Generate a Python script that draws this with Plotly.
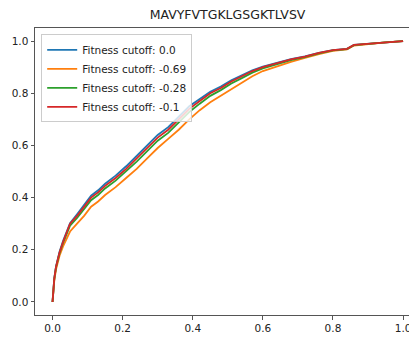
import plotly.graph_objects as go

title = "MAVYFVTGKLGSGKTLVSV"
labels = ["Fitness cutoff: 0.0", "Fitness cutoff: -0.69", "Fitness cutoff: -0.28", "Fitness cutoff: -0.1"]
colors = ["#1f77b4", "#ff7f0e", "#2ca02c", "#d62728"]

x_vals = [0, 0.002, 0.005, 0.01, 0.015, 0.02, 0.03, 0.04, 0.05, 0.07, 0.09, 0.11, 0.13, 0.15,
          0.18, 0.21, 0.24, 0.27, 0.30, 0.33, 0.36, 0.39, 0.42, 0.45, 0.48, 0.51, 0.54, 0.57,
          0.60, 0.64, 0.68, 0.72, 0.76, 0.80, 0.84, 0.86, 0.90, 0.95, 1.0]

cut_0_0 = [0, 0.05, 0.09, 0.136, 0.167, 0.192, 0.233, 0.268, 0.302, 0.336, 0.372, 0.407, 0.428, 0.453,
           0.484, 0.52, 0.56, 0.6, 0.64, 0.67, 0.71, 0.75, 0.778, 0.806, 0.826, 0.85, 0.869, 0.888,
           0.902, 0.917, 0.931, 0.941, 0.955, 0.965, 0.97, 0.985, 0.99, 0.995, 1.0]
cut_m0_69 = [0, 0.045, 0.082, 0.125, 0.153, 0.177, 0.213, 0.243, 0.27, 0.30, 0.33, 0.365, 0.385, 0.41,
             0.44, 0.475, 0.51, 0.55, 0.59, 0.625, 0.66, 0.70, 0.735, 0.765, 0.79, 0.818, 0.843, 0.865,
             0.885, 0.903, 0.92, 0.935, 0.95, 0.962, 0.968, 0.983, 0.989, 0.995, 1.0]
cut_m0_28 = [0, 0.05, 0.088, 0.133, 0.162, 0.187, 0.226, 0.26, 0.292, 0.322, 0.355, 0.39, 0.41, 0.435,
             0.465, 0.5, 0.538, 0.578, 0.618, 0.648, 0.688, 0.728, 0.76, 0.79, 0.812, 0.837, 0.858, 0.879,
             0.895, 0.911, 0.927, 0.938, 0.953, 0.964, 0.969, 0.984, 0.99, 0.995, 1.0]
cut_m0_1 = [0, 0.05, 0.09, 0.135, 0.165, 0.19, 0.23, 0.265, 0.30, 0.33, 0.365, 0.40, 0.42, 0.445,
            0.475, 0.51, 0.55, 0.59, 0.63, 0.66, 0.70, 0.74, 0.77, 0.80, 0.82, 0.845, 0.865, 0.885,
            0.90, 0.915, 0.93, 0.94, 0.955, 0.965, 0.97, 0.985, 0.99, 0.995, 1.0]

series = [cut_0_0, cut_m0_69, cut_m0_28, cut_m0_1]
tick_vals = [0.0, 0.2, 0.4, 0.6, 0.8, 1.0]
tick_text = ["0.0", "0.2", "0.4", "0.6", "0.8", "1.0"]

fig = go.Figure()
for ys, name, c in zip(series, labels, colors):
    fig.add_trace(go.Scatter(x=x_vals, y=ys, mode="lines", name=name,
                             line=dict(color=c, width=1.8)))

# page body has an 8px margin; size the figure so absolute positions match
OFF = 8
W, H = 417 - OFF, 337 - OFF
L, R, T, B = 34.5 - OFF, 0, 27.6 - OFF, 21.6
plot_w = W - L - R
plot_h = H - T - B
font = dict(family="DejaVu Sans", size=10.5, color="#222")
fig.update_layout(
    width=W, height=H,
    margin=dict(l=L, r=R, t=T, b=B, pad=0),
    paper_bgcolor="white", plot_bgcolor="white",
    font=font,
    title=dict(text=title, x=(227.5 - OFF) / W, xanchor="center", y=1 - (15 - OFF) / H,
               yanchor="middle", xref="container", yref="container",
               font=dict(family="DejaVu Sans", size=12.5, color="#222")),
    showlegend=True,
    legend=dict(x=(40.7 - 34.5) / plot_w, y=1 - (34 - 27.6) / plot_h, xanchor="left", yanchor="top",
                bgcolor="rgba(255,255,255,0.8)", bordercolor="#cccccc", borderwidth=1,
                font=dict(family="DejaVu Sans", size=10.5, color="#222"),
                itemwidth=30, tracegroupgap=0),
)
fig.update_xaxes(range=[-0.05, -0.05 + plot_w / 351.0], tickvals=tick_vals, ticktext=tick_text,
                 showgrid=False, zeroline=False, showline=True, linecolor="#555", linewidth=1,
                 mirror=True, ticks="outside", ticklen=3.5, tickcolor="#555", tickwidth=1,
                 automargin=False)
fig.update_yaxes(range=[-0.05, 1.05], tickvals=tick_vals, ticktext=tick_text,
                 showgrid=False, zeroline=False, showline=True, linecolor="#555", linewidth=1,
                 mirror=False, ticks="outside", ticklen=3.5, tickcolor="#555", tickwidth=1,
                 automargin=False)

fig.write_html("out.html")
